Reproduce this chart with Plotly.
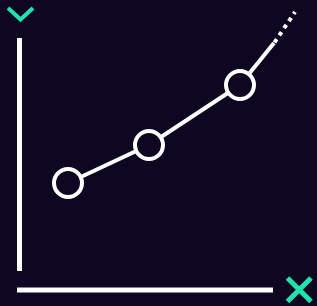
import plotly.graph_objects as go

# Data (arbitrary units, origin at the axes corner)
x_vals = [4.85, 12.95, 22.05]
y_vals = [10.7, 14.5, 20.5]
trend_solid_x = [22.05, 25.45]
trend_solid_y = [20.5, 24.7]
trend_dot_x = [25.5, 27.55]
trend_dot_y = [24.75, 27.8]

BG = "#0d0721"
WHITE = "#ffffff"
TEAL = "#22e3ad"
W, H = 317, 306

fig = go.Figure()

# axes lines
fig.add_trace(go.Scatter(x=[0, 0], y=[1.9, 25.2], mode="lines",
                         line=dict(color=WHITE, width=5), hoverinfo="skip"))
fig.add_trace(go.Scatter(x=[-0.25, 25.35], y=[0, 0], mode="lines",
                         line=dict(color=WHITE, width=5), hoverinfo="skip"))

# trend extension
fig.add_trace(go.Scatter(x=trend_solid_x, y=trend_solid_y, mode="lines",
                         line=dict(color=WHITE, width=4), hoverinfo="skip"))
fig.add_trace(go.Scatter(x=trend_dot_x, y=trend_dot_y, mode="lines",
                         line=dict(color=WHITE, width=4, dash="4px,4.6px"), hoverinfo="skip"))

# main series
fig.add_trace(go.Scatter(x=x_vals, y=y_vals, mode="lines+markers",
                         line=dict(color=WHITE, width=4),
                         marker=dict(size=28, color=BG, line=dict(color=WHITE, width=4)),
                         hoverinfo="skip"))

def px(x, y):
    return f"{x / W:.5f},{1 - y / H:.5f}"

shapes = [
    dict(type="path", xref="paper", yref="paper",
         path=f"M {px(8, 8)} L {px(20.5, 19.5)} L {px(33, 8)}",
         line=dict(color=TEAL, width=4)),
    dict(type="path", xref="paper", yref="paper",
         path=f"M {px(287.5, 278)} L {px(311, 301.5)} M {px(287.5, 301.5)} L {px(311, 278)}",
         line=dict(color=TEAL, width=5)),
]

fig.update_layout(
    width=W, height=H,
    margin=dict(l=0, r=0, t=0, b=0),
    paper_bgcolor=BG, plot_bgcolor=BG,
    showlegend=False,
    shapes=shapes,
    xaxis=dict(range=[-1.95, 29.75], visible=False, fixedrange=True),
    yaxis=dict(range=[-1.6, 29.0], visible=False, fixedrange=True),
)

fig.write_html("out.html", config={"displayModeBar": False},
               post_script="document.body.style.margin='0';document.body.style.background='#0d0721';document.body.style.overflow='hidden';")
